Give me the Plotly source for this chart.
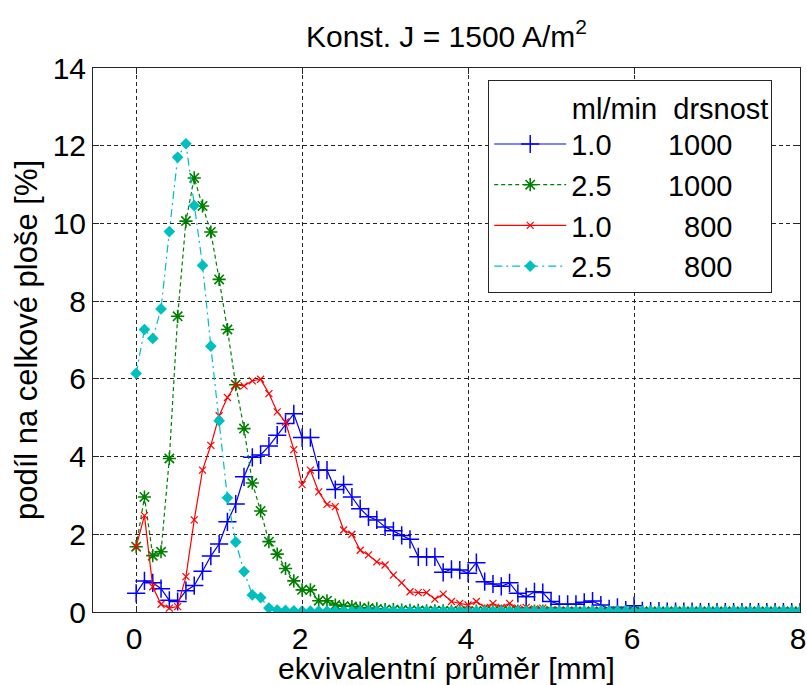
import plotly.graph_objects as go

# equivalent diameter [mm]
x_mm = [0.0, 0.1, 0.2, 0.3, 0.4, 0.5, 0.6, 0.7, 0.8, 0.9,
        1.0, 1.1, 1.2, 1.3, 1.4, 1.5, 1.6, 1.7, 1.8, 1.9,
        2.0, 2.1, 2.2, 2.3, 2.4, 2.5, 2.6, 2.7, 2.8, 2.9,
        3.0, 3.1, 3.2, 3.3, 3.4, 3.5, 3.6, 3.7, 3.8, 3.9,
        4.0, 4.1, 4.2, 4.3, 4.4, 4.5, 4.6, 4.7, 4.8, 4.9,
        5.0, 5.1, 5.2, 5.3, 5.4, 5.5, 5.6, 5.7, 5.8, 5.9,
        6.0, 6.1, 6.2, 6.3, 6.4, 6.5, 6.6, 6.7, 6.8, 6.9,
        7.0, 7.1, 7.2, 7.3, 7.4, 7.5, 7.6, 7.7, 7.8, 7.9, 8.0]

# 1.0 ml/min, drsnost 1000
blue_10_1000 = [0.48, 0.80, 0.75, 0.60, 0.30, 0.27, 0.55, 0.68, 1.05, 1.44,
                1.75, 2.32, 2.78, 3.48, 3.98, 4.04, 4.27, 4.55, 4.85, 5.10,
                4.49, 4.49, 3.65, 3.65, 3.15, 3.28, 2.96, 2.66, 2.45, 2.37,
                2.19, 2.09, 1.97, 1.87, 1.42, 1.42, 1.42, 1.02, 1.10, 1.08,
                1.00, 1.27, 0.78, 0.72, 0.66, 0.75, 0.48, 0.39, 0.52, 0.50,
                0.27, 0.20, 0.20, 0.20, 0.25, 0.28, 0.18, 0.08, 0.12, 0.05,
                0.16, 0.03, 0.02, 0.02, 0.01, 0.01, 0.01, 0.01, 0.00, 0.00,
                0.00, 0.00, 0.00, 0.00, 0.00, 0.00, 0.00, 0.00, 0.00, 0.00, 0.00]

# 2.5 ml/min, drsnost 1000
green_25_1000 = [1.68, 2.96, 1.45, 1.55, 3.95, 7.61, 10.06, 11.17, 10.45, 9.78,
                 8.56, 7.27, 5.85, 4.72, 3.32, 2.60, 1.81, 1.49, 1.12, 0.80,
                 0.57, 0.57, 0.29, 0.29, 0.18, 0.15, 0.14, 0.10, 0.10, 0.08,
                 0.06, 0.06, 0.05, 0.04, 0.04, 0.03, 0.03, 0.03, 0.02, 0.02,
                 0.02, 0.02, 0.02, 0.02, 0.02, 0.02, 0.02, 0.02, 0.02, 0.02,
                 0.01, 0.01, 0.01, 0.01, 0.01, 0.01, 0.01, 0.01, 0.01, 0.01,
                 0.01, 0.01, 0.01, 0.01, 0.01, 0.01, 0.01, 0.01, 0.01, 0.01,
                 0.01, 0.01, 0.01, 0.01, 0.01, 0.01, 0.01, 0.01, 0.01, 0.01, 0.01]

# 1.0 ml/min, drsnost 800
red_10_800 = [1.68, 2.48, 0.65, 0.20, 0.10, 0.14, 0.91, 2.37, 3.65, 4.29,
              5.05, 5.52, 5.85, 5.82, 5.95, 5.99, 5.62, 5.15, 4.89, 4.18,
              3.28, 3.65, 3.09, 2.77, 2.71, 2.11, 2.00, 1.59, 1.47, 1.29,
              1.21, 0.95, 0.75, 0.52, 0.50, 0.50, 0.33, 0.46, 0.27, 0.22,
              0.18, 0.27, 0.12, 0.22, 0.12, 0.22, 0.10, 0.12, 0.08, 0.10,
              0.05, 0.04, 0.03, 0.03, 0.02, 0.02, 0.02, 0.02, 0.01, 0.01,
              0.01, 0.01, 0.01, 0.01, 0.01, 0.01, 0.01, 0.01, 0.01, 0.01,
              0.01, 0.01, 0.01, 0.01, 0.01, 0.01, 0.01, 0.01, 0.01, 0.01, 0.01]

# 2.5 ml/min, drsnost 800
cyan_25_800 = [6.14, 7.27, 7.04, 7.80, 9.79, 11.70, 12.05, 10.46, 8.92, 6.84,
               4.92, 2.94, 1.80, 1.04, 0.44, 0.37, 0.10, 0.05, 0.04, 0.03,
               0.02, 0.02, 0.02, 0.02, 0.02, 0.02, 0.02, 0.02, 0.02, 0.02,
               0.02, 0.02, 0.02, 0.02, 0.02, 0.02, 0.02, 0.02, 0.02, 0.02,
               0.02, 0.02, 0.02, 0.02, 0.02, 0.02, 0.02, 0.02, 0.02, 0.02,
               0.02, 0.02, 0.02, 0.02, 0.02, 0.02, 0.02, 0.02, 0.02, 0.02,
               0.02, 0.02, 0.02, 0.02, 0.02, 0.02, 0.02, 0.02, 0.02, 0.02,
               0.02, 0.02, 0.02, 0.02, 0.02, 0.02, 0.02, 0.02, 0.02, 0.02, 0.02]

NB = "\u00a0"
legend_header = NB * 10 + "ml/min" + NB * 2 + "drsnost"
legend_names = ["1.0" + NB * 7 + "1000",
                "2.5" + NB * 7 + "1000",
                "1.0" + NB * 9 + "800",
                "2.5" + NB * 9 + "800"]
x_ticks = [0, 2, 4, 6, 8]
y_ticks = [0, 2, 4, 6, 8, 10, 12, 14]

FONT = "Liberation Sans, Arial, sans-serif"

fig = go.Figure()
fig.add_trace(go.Scatter(
    x=x_mm, y=blue_10_1000, name=legend_names[0], mode="lines+markers",
    line=dict(color="#0000FF", width=1.2),
    marker=dict(symbol="cross-thin-open", size=13, color="#0000FF",
                line=dict(color="#0000FF", width=1.5))))
fig.add_trace(go.Scatter(
    x=x_mm, y=green_25_1000, name=legend_names[1], mode="lines+markers",
    line=dict(color="#008000", width=1.2, dash="4px,3px"),
    marker=dict(symbol="asterisk-open", size=11, color="#008000",
                line=dict(color="#008000", width=1.6))))
fig.add_trace(go.Scatter(
    x=x_mm, y=red_10_800, name=legend_names[2], mode="lines+markers",
    line=dict(color="#FF0000", width=1.2),
    marker=dict(symbol="x-thin-open", size=7, color="#FF0000",
                line=dict(color="#FF0000", width=1.2))))
fig.add_trace(go.Scatter(
    x=x_mm, y=cyan_25_800, name=legend_names[3], mode="lines+markers",
    line=dict(color="#00BFBF", width=1.2, dash="8px,4px,2px,4px"),
    marker=dict(symbol="diamond", size=9, color="#00BFBF",
                line=dict(color="#00BFBF", width=0))))

axis_common = dict(
    showline=True, linecolor="#262626", linewidth=1, mirror="ticks",
    ticks="inside", ticklen=6, tickcolor="#262626",
    showgrid=True, gridcolor="#262626", gridwidth=1, griddash="4px,3px",
    zeroline=False, automargin=False, ticklabeloverflow="allow",
    tickfont=dict(family=FONT, size=30, color="black"),
)

fig.update_layout(
    width=807, height=685,
    paper_bgcolor="white", plot_bgcolor="white",
    margin=dict(l=93, r=7, t=68, b=73),
    title=dict(text="Konst. J = 1500 A/m<sup>2</sup>", xref="paper", x=0.5,
               xanchor="center", yref="container", y=0.947, yanchor="middle",
               font=dict(family=FONT, size=30, color="black")),
    xaxis=dict(range=[-0.52, 8.0], tickvals=x_ticks, ticklabelshift=-2,
               title=dict(text="ekvivalentní průměr [mm]", standoff=2,
                          font=dict(family=FONT, size=30, color="black")),
               **axis_common),
    yaxis=dict(range=[0, 14], tickvals=y_ticks,
               title=dict(text="podíl na celkové ploše [%]", standoff=5,
                          font=dict(family=FONT, size=31, color="black")),
               **axis_common),
    legend=dict(x=0.559, y=0.978, xanchor="left", yanchor="top",
                bgcolor="white", bordercolor="#262626", borderwidth=1,
                font=dict(family=FONT, size=29, color="black"),
                title=dict(text=legend_header, side="top",
                           font=dict(family=FONT, size=29, color="black")),
                itemwidth=72, tracegroupgap=0),
    showlegend=True,
)

fig.write_html("out.html", config={"displayModeBar": False},
               post_script="document.body.style.margin='0px';")
